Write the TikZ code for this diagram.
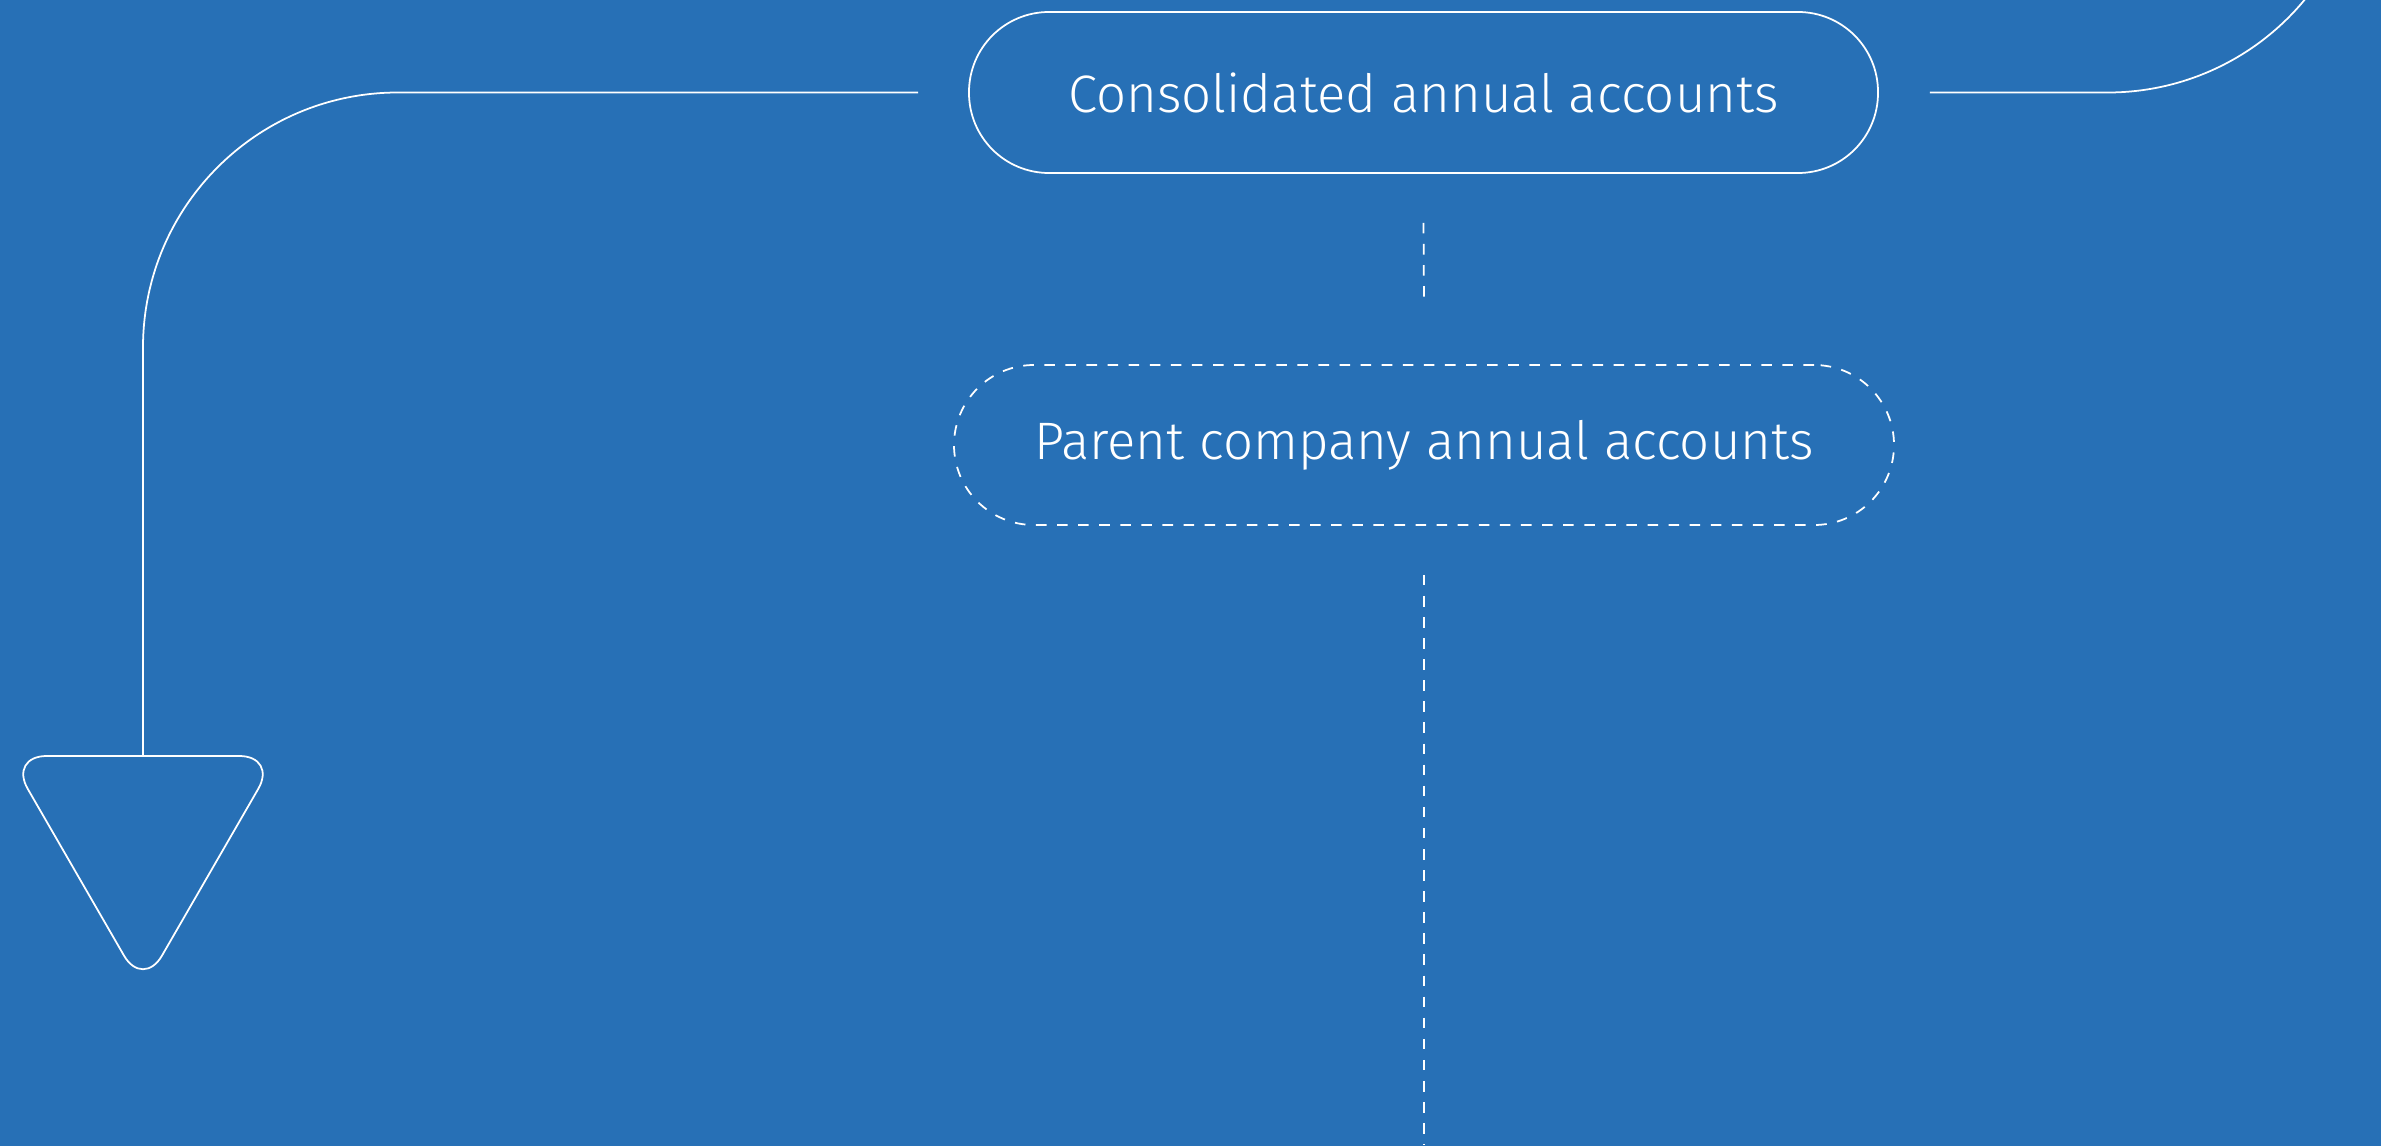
\documentclass[tikz,border=0pt]{standalone}
\usepackage{fontspec}
\setmainfont{Fira Sans}[UprightFont=* Light]
\usepackage{xcolor}
\usetikzlibrary{shapes.geometric}
\definecolor{planblue}{RGB}{39,112,182}
\tikzset{
    line_base/.style = {draw=white, line width=0.5pt},
    box_node/.style = {line_base, rectangle, rounded corners=0.8cm, align=center, text=white, font=\fontsize{15}{18}\selectfont, inner sep=0pt},
    dash_node/.style = {box_node, dash pattern=on 3pt off 3pt},
    tri_node/.style = {line_base, regular polygon, regular polygon sides=3, shape border rotate=180, rounded corners=0.38cm, minimum size=3.1cm, inner sep=0pt, outer sep=0pt},
    dash_line/.style = {line_base, dash pattern=on 3pt off 3pt}
}

\begin{document}
\begin{tikzpicture}
    % page size and background
    \useasboundingbox (0,0) rectangle (23.81,11.45);
    \fill[planblue] (-0.2,-0.2) rectangle (24.01,11.65);
    \clip (0,0) rectangle (23.81,11.45);

    \node [box_node, minimum width=9.09cm, minimum height=1.61cm] (cons) at (14.235,10.525) {Consolidated annual accounts};
    \node [dash_node, minimum width=9.40cm, minimum height=1.60cm] (parent) at (14.24,7.0) {Parent company annual accounts};
    \node [tri_node] (down) at (1.43,3.115) {};
    \coordinate (bottom) at (14.24,0);

    % solid connectors
    \draw [line_base, rounded corners=2.55cm] ([xshift=-5mm]cons.west) -| (down.north);
    \draw [line_base] ([xshift=5.1mm]cons.east) -- ++(1.78,0) arc (-90:-30:2.55);

    % dashed connectors
    \draw [dash_line] ([yshift=-4.9mm]cons.south) -- ([yshift=6.6mm]parent.north);
    \draw [dash_line] ([yshift=-4.9mm]parent.south) -- (bottom);
\end{tikzpicture}
\end{document}
